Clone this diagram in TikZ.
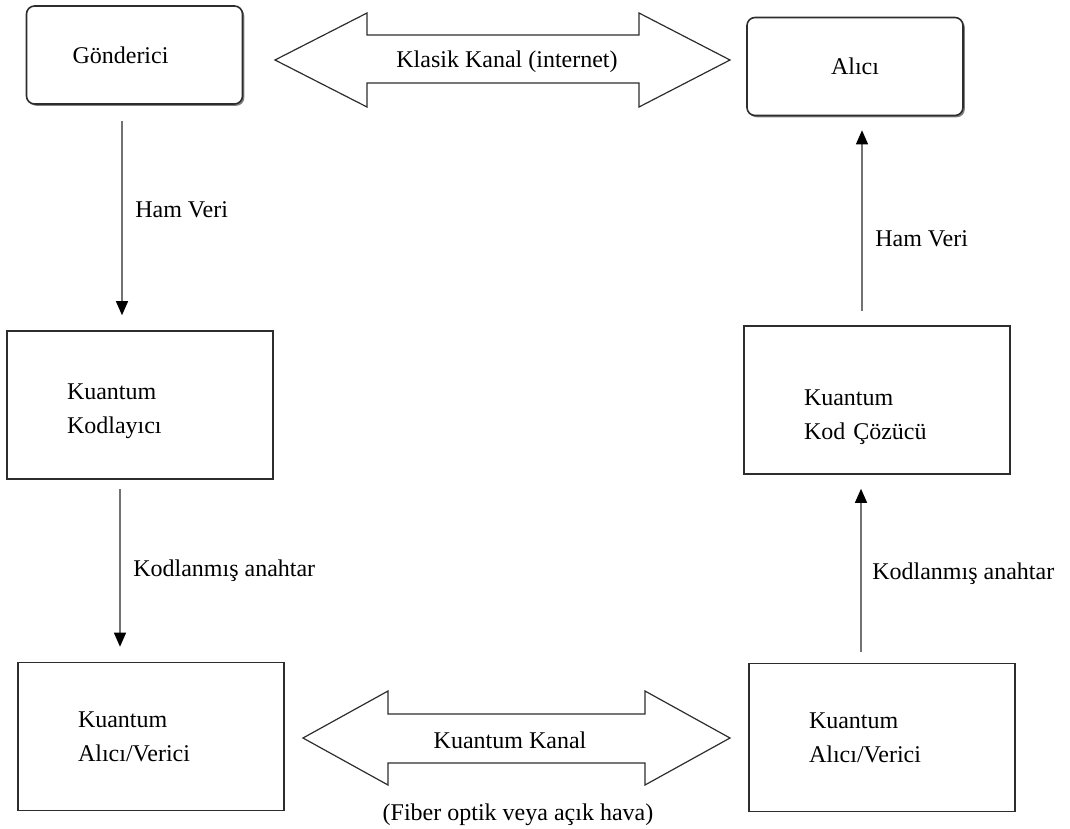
\documentclass[tikz,border=0pt]{standalone}
\usepackage{fontspec}
\setmainfont{Liberation Serif}
\usetikzlibrary{arrows.meta,shadows}
\definecolor{boxline}{RGB}{45,45,45}
\definecolor{flowline}{RGB}{115,115,115}

\begin{document}
\begin{tikzpicture}[x=0.5pt,y=-0.5pt,
    every node/.style={font=\fontsize{12}{17}\selectfont},
    rbox/.style={draw=boxline,line width=0.8pt,rounded corners=4pt,fill=white,
      drop shadow={shadow xshift=0.9pt,shadow yshift=-0.9pt,fill=black!70,opacity=0.7},
      minimum width=108pt,minimum height=49pt,inner sep=0pt},
    qbox/.style={draw=boxline,line width=0.8pt,minimum height=74pt,
      inner xsep=30pt,text width=73pt,align=left},
    flow/.style={draw=flowline,line width=0.6pt,
      -{Triangle[length=7pt,width=6pt,color=black]}},
    lbl/.style={right,xshift=3pt},
    blockarrow/.style={draw=boxline,line width=0.6pt,line join=miter}]
  \useasboundingbox (0,0) rectangle (1070,829);
  % top row: sender and receiver
  \node[rbox] (gonderici) at (134.5,55) {Gönderici\hspace*{14pt}};
  \node[rbox] (alici) at (855,66.5) {Alıcı};
  % middle row
  \node[qbox] (kodlayici) at (140,405) {\rule{0pt}{14pt}Kuantum\\Kodlayıcı};
  \node[qbox] (cozucu) at (877,400) {\rule{0pt}{25pt}Kuantum\\Kod Çözücü};
  % bottom row
  \node[qbox] (verici1) at (151,736.5) {Kuantum\\Alıcı/Verici};
  \node[qbox] (verici2) at (882,737.5) {Kuantum\\Alıcı/Verici};
  % classical channel (double block arrow)
  \draw[blockarrow] (275,60) -- (367,13) -- (367,35) -- (639,35) -- (639,13)
    -- (730,60) -- (639,107) -- (639,83) -- (367,83) -- (367,107) -- cycle;
  \node (klasik) at (507,62) {Klasik Kanal (internet)};
  % quantum channel (double block arrow)
  \draw[blockarrow] (303,738) -- (388,691) -- (388,714) -- (645,714) -- (645,691)
    -- (730,738) -- (645,785) -- (645,763) -- (388,763) -- (388,785) -- cycle;
  \node (kuantum) at (510,740) {Kuantum Kanal};
  \node (ortam) at (518,815) {(Fiber optik veya açık hava)};
  % left column, downward
  \draw[flow] ([xshift=-6.25pt,yshift=-8pt]gonderici.south)
    -- node[lbl,pos=0.46] (ham1) {Ham Veri} ([xshift=-9pt,yshift=7.5pt]kodlayici.north);
  \draw[flow] ([xshift=-10pt,yshift=-4.5pt]kodlayici.south)
    -- node[lbl,pos=0.52] (kod1) {Kodlanmış anahtar} ([xshift=-15.5pt,yshift=7.5pt]verici1.north);
  % right column, upward
  \draw[flow] ([xshift=-10.5pt,yshift=5.5pt]verici2.north)
    -- node[lbl,pos=0.48,xshift=-1pt] (kod2) {Kodlanmış anahtar} ([xshift=-8pt,yshift=-7pt]cozucu.south);
  \draw[flow] ([xshift=-7.5pt,yshift=7pt]cozucu.north)
    -- node[lbl,pos=0.40] (ham2) {Ham Veri} ([xshift=3.5pt,yshift=-7pt]alici.south);
\end{tikzpicture}
\end{document}
